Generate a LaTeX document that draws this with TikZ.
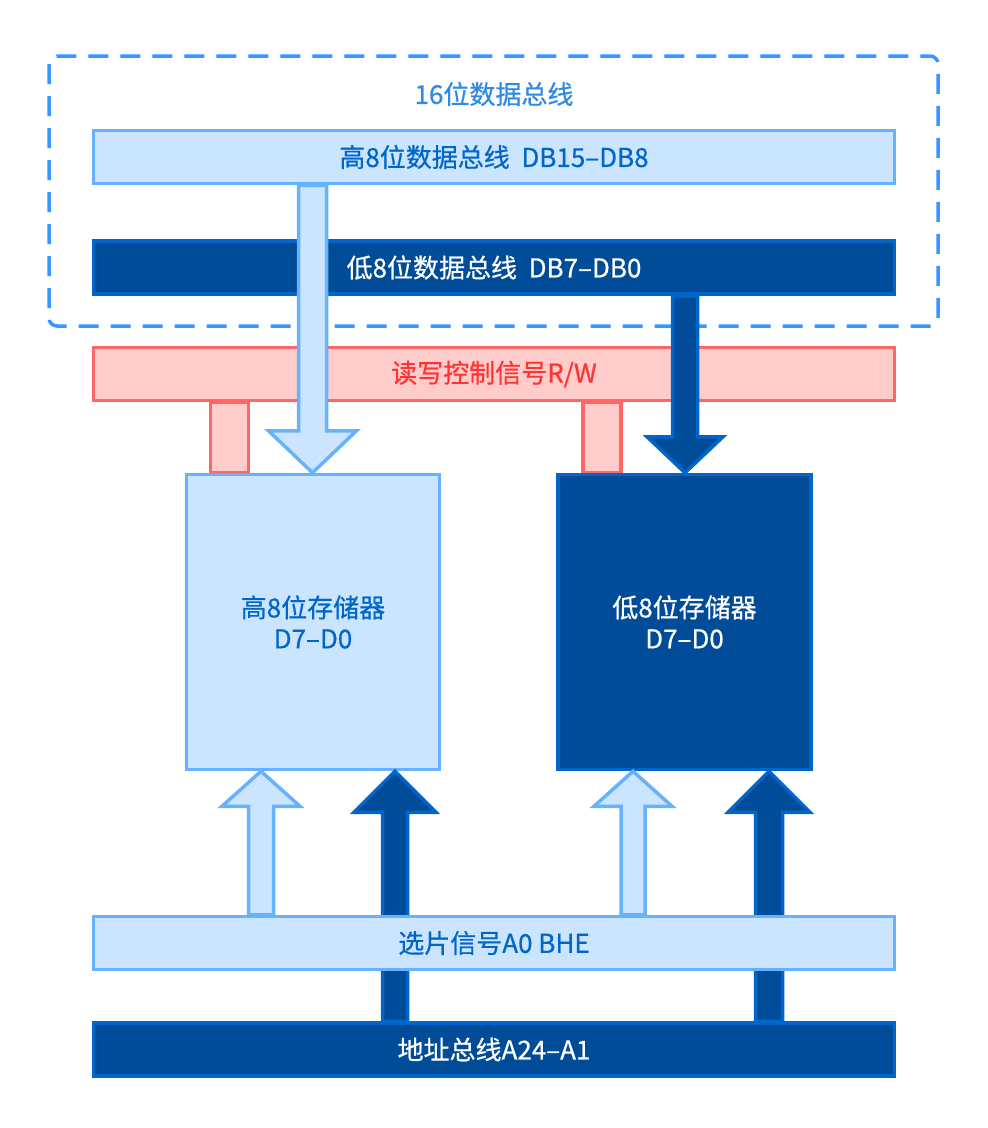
\documentclass[tikz,border=0pt]{standalone}
\usepackage{fontspec}
\setmainfont{Noto Sans CJK SC}[FakeBold=0.6]
\usetikzlibrary{calc,backgrounds}

\definecolor{lightfill}{HTML}{CCE5FF}
\definecolor{lightline}{HTML}{66B2FF}
\definecolor{darkfill}{HTML}{004C99}
\definecolor{darkline}{HTML}{0066CC}
\definecolor{redfill}{HTML}{FFCCCC}
\definecolor{redline}{HTML}{FF6666}
\definecolor{redtext}{HTML}{FF3333}
\definecolor{dashblue}{HTML}{3399FF}

% vertical block arrow: style, tail, tip, half shaft, half head, head length
\newcommand{\blockarrow}[6]{%
  \draw[#1] ($(#2)+(-#4,0)$) -- ($(#3)+(-#4,#6)$) -- ($(#3)+(-#5,#6)$)
    -- (#3) -- ($(#3)+(#5,#6)$) -- ($(#3)+(#4,#6)$) -- ($(#2)+(#4,0)$) -- cycle;}

\begin{document}
\begin{tikzpicture}[x=1pt,y=-1pt,line width=3.5pt,
    box/.style={rectangle,inner sep=0pt,align=center,
      font=\fontsize{26}{31}\selectfont},
    bus/.style={box,minimum width=801,minimum height=53},
    mem/.style={box,minimum width=253,minimum height=295},
    light/.style={draw=lightline,fill=lightfill,text=darkline},
    dark/.style={draw=darkline,fill=darkfill,text=white},
    rw/.style={draw=redline,fill=redfill,text=redtext,line width=3.5pt},
    lightarr/.style={draw=lightline,fill=lightfill},
    darkarr/.style={draw=darkline,fill=darkfill}]
    \useasboundingbox (0,0) rectangle (988,1128);

    % ------------------------------------------------------------------
    %                             NODES
    % ------------------------------------------------------------------
    % 16 bit data bus group
    \draw[dashblue,dash pattern=on 20pt off 12pt,rounded corners=8pt]
      (49,56) rectangle (938,326);
    \node[box,text=dashblue!90!black] (title) at (494,94) {16位数据总线};
    \node[bus,light] (hibus) at (494,157)   {高8位数据总线~~DB15–DB8};
    \node[bus,dark]  (lobus) at (494,267.5) {低8位数据总线~~DB7–DB0};
    % read / write
    \node[bus,rw]    (rwbus) at (494,374)   {读写控制信号R/W};
    % memories
    \node[mem,light] (himem) at (313,622)   {高8位存储器\\D7–D0};
    \node[mem,dark]  (lomem) at (684.5,622) {低8位存储器\\D7–D0};
    % address bus
    \node[bus,dark]  (addrbus) at (494,1049.5) {地址总线A24–A1};

    % ------------------------------------------------------------------
    %                             EDGES
    % ------------------------------------------------------------------
    % read / write legs
    \coordinate (rwl) at (229.5,0);
    \coordinate (rwr) at (602,0);
    \begin{scope}[on background layer]
      \draw[rw] ($(rwbus.south -| rwl)+(-19,0)$) rectangle ($(himem.north -| rwl)+(19,0)$);
      \draw[rw] ($(rwbus.south -| rwr)+(-19,0)$) rectangle ($(lomem.north -| rwr)+(19,0)$);
    \end{scope}
    % data buses into memories
    \coordinate (hd) at (312.5,0);
    \coordinate (ld) at (685,0);
    \coordinate (hdtail) at (hibus.south -| hd);
    \coordinate (hdtip)  at (himem.north -| hd);
    \coordinate (ldtail) at (lobus.south -| ld);
    \coordinate (ldtip)  at (lomem.north -| ld);
    \blockarrow{lightarr}{hdtail}{hdtip}{14}{44}{-42}
    \blockarrow{darkarr}{ldtail}{ldtip}{12.5}{38}{-36}
    % address bus into memories
    \coordinate (ha) at (395,0);
    \coordinate (la) at (769,0);
    \coordinate (hatail) at (addrbus.north -| ha);
    \coordinate (hatip)  at (himem.south -| ha);
    \coordinate (latail) at (addrbus.north -| la);
    \coordinate (latip)  at (lomem.south -| la);
    \blockarrow{darkarr}{hatail}{hatip}{12.5}{41}{41}
    \blockarrow{darkarr}{latail}{latip}{13.5}{41}{41}
    % chip select
    \node[bus,light] (selbus) at (494,943) {选片信号A0~BHE};
    \coordinate (hs) at (261,0);
    \coordinate (ls) at (633,0);
    \coordinate (hstail) at (selbus.north -| hs);
    \coordinate (hstip)  at (himem.south -| hs);
    \coordinate (lstail) at (selbus.north -| ls);
    \coordinate (lstip)  at (lomem.south -| ls);
    \blockarrow{lightarr}{hstail}{hstip}{12.5}{39}{35}
    \blockarrow{lightarr}{lstail}{lstip}{12}{39}{35}
\end{tikzpicture}
\end{document}
